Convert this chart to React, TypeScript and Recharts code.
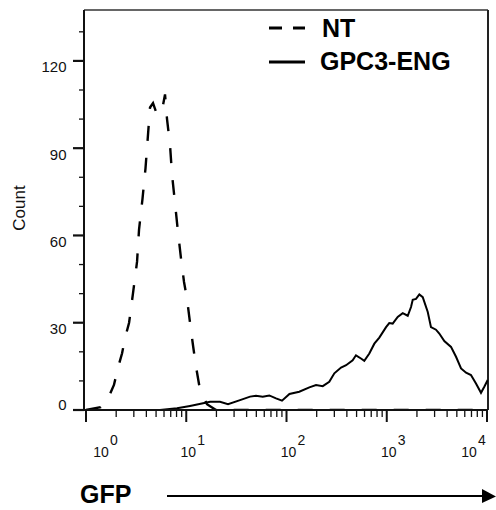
import React from 'react';
import { LineChart, Line, XAxis, YAxis, ReferenceLine, Legend } from 'recharts';

// NT (non-transduced) histogram: GFP intensity vs count
const NT_GFP = [1, 1.4, 1.66, 1.9, 2.08, 2.29, 2.45, 2.69, 2.94, 3.23, 3.38, 3.66, 3.92, 4.11, 4.35, 4.66, 5.11, 5.73, 6.14, 6.43, 6.89, 7.21, 7.73, 8.28, 8.87, 9.5, 10.2, 10.9, 11.7, 12.5, 13.7, 16.1, 19.8, 10000];
const NT_COUNT = [0, 1, 4, 8.6, 14.4, 19.5, 24.7, 30, 40, 51, 62, 72.6, 83, 92.5, 104, 105.5, 101.5, 103, 108.5, 100, 91, 81, 71, 61, 52, 44, 38, 30, 22, 15, 7, 2, 0, 0];

// GPC3-ENG histogram
const ENG_GFP = [1, 5.47, 8.09, 10.9, 14.7, 17.3, 21.7, 26.1, 34.4, 43.3, 49.6, 57.9, 67.3, 78.6, 90.2, 107, 134, 169, 197, 230, 267, 300, 350, 393, 457, 493, 553, 597, 670, 752, 843, 984, 1059, 1146, 1286, 1443, 1619, 1746, 1816, 1959, 2113, 2285, 2564, 2761, 3098, 3342, 3750, 4375, 4909, 5508, 6180, 6918, 7762, 8710, 9397, 10160];
const ENG_COUNT = [0, 0, 0.6, 1.4, 2.3, 2.8, 2.8, 2.0, 3.4, 4.6, 4.9, 4.6, 5.0, 4.0, 3.2, 5.5, 6.3, 7.8, 8.6, 8.2, 9.7, 12.6, 14.6, 15.4, 17.1, 18.8, 17.7, 16.9, 19.4, 22.8, 24.9, 28.5, 29.9, 29.7, 32, 33.3, 32.4, 35.4, 37.9, 38.2, 39.7, 38.8, 33.7, 28.5, 27.6, 26.3, 23.7, 21.7, 18.3, 14.3, 12.8, 12.0, 9.1, 5.9, 8.0, 10.3];

const SERIES_NAMES = ['NT', 'GPC3-ENG'];

// Axis ticks
const X_DECADES = [1, 10, 100, 1000, 10000];
const X_DECADE_EXP = ['0', '1', '2', '3', '4'];
const X_MINOR_MULT = [2, 3, 4, 5, 6, 7, 8, 9];
const Y_MAJOR = [0, 30, 60, 90, 120];
const Y_MINOR = [10, 20, 40, 50, 70, 80, 100, 110, 130];

const X_DOMAIN: [number, number] = [0.955, 10230];
const Y_DOMAIN: [number, number] = [0, 137.5];

const ntData = NT_GFP.map((x, i) => ({ x, y: NT_COUNT[i] }));
const engData = ENG_GFP.map((x, i) => ({ x, y: ENG_COUNT[i] }));

const xTicks: number[] = [];
X_DECADES.forEach((d, i) => {
  xTicks.push(d);
  if (i < X_DECADES.length - 1) X_MINOR_MULT.forEach((m) => xTicks.push(d * m));
});
const yTicks = [...Y_MAJOR, ...Y_MINOR].sort((a, b) => a - b);

const FONT = '"Liberation Sans", Arial, Helvetica, sans-serif';
const INK = '#111';

const XTick = (props: any) => {
  const { x, y, payload } = props;
  const v = payload.value;
  const di = X_DECADES.findIndex((d) => Math.abs(d - v) / d < 1e-6);
  const major = di >= 0;
  let cx = x + 2;
  if (di === 0) cx = x + 15;
  if (di === X_DECADES.length - 1) cx = x - 18;
  return (
    <g>
      <line x1={x} y1={y} x2={x} y2={y + (major ? 12 : 7)} stroke={INK} strokeWidth={major ? 2 : 1.3} />
      {major && (
        <g fontFamily={FONT} fontSize={14} fill={INK}>
          <text x={cx} y={y + 47} textAnchor="middle">10</text>
          <text x={cx + 9} y={y + 35} textAnchor="start">{X_DECADE_EXP[di]}</text>
        </g>
      )}
    </g>
  );
};

const YTick = (props: any) => {
  const { x, y, payload } = props;
  const v = payload.value;
  const major = Y_MAJOR.includes(v);
  return (
    <g>
      <line x1={x - (major ? 11 : 5)} y1={y} x2={x} y2={y} stroke={INK} strokeWidth={major ? 2.2 : 1.3} />
      {major && (
        <text x={x - 17.5} y={v === 0 ? y : y + 11.5} textAnchor="end" fontFamily={FONT} fontSize={15} fill={INK}>
          {v}
        </text>
      )}
    </g>
  );
};

const LegendBox = () => (
  <svg width={220} height={70} style={{ overflow: 'visible' }}>
    <line x1={9} y1={18} x2={45} y2={18} stroke="#000" strokeWidth={3} strokeDasharray="13 11" />
    <text x={62} y={27} fontFamily={FONT} fontWeight="bold" fontSize={25} fill="#000">{SERIES_NAMES[0]}</text>
    <line x1={9} y1={52} x2={45} y2={52} stroke="#000" strokeWidth={3} />
    <text x={60} y={60} fontFamily={FONT} fontWeight="bold" fontSize={25} fill="#000">{SERIES_NAMES[1]}</text>
  </svg>
);

export default function App() {
  return (
    <div style={{ position: 'absolute', left: 0, top: 0, width: 496, height: 510, background: '#fff' }}>
      <LineChart width={496} height={510} margin={{ top: 10, right: 8, bottom: 0, left: 0 }}>
        <XAxis
          type="number"
          dataKey="x"
          scale="log"
          domain={X_DOMAIN}
          allowDataOverflow
          ticks={xTicks}
          interval={0}
          tick={<XTick />}
          tickLine={false}
          tickSize={0}
          tickMargin={0}
          height={100}
          axisLine={{ stroke: INK, strokeWidth: 2 }}
        />
        <YAxis
          type="number"
          domain={Y_DOMAIN}
          allowDataOverflow
          ticks={yTicks}
          interval={0}
          tick={<YTick />}
          tickLine={false}
          tickSize={0}
          tickMargin={0}
          width={84}
          axisLine={{ stroke: INK, strokeWidth: 2 }}
        />
        <ReferenceLine y={Y_DOMAIN[1]} stroke="#333" strokeWidth={1.5} />
        <ReferenceLine x={X_DOMAIN[1]} stroke="#222" strokeWidth={2} />
        <Line
          data={ntData}
          dataKey="y"
          name={SERIES_NAMES[0]}
          type="linear"
          stroke="#000"
          strokeWidth={2.4}
          strokeDasharray="15 17"
          dot={false}
          activeDot={false}
          isAnimationActive={false}
        />
        <Line
          data={engData}
          dataKey="y"
          name={SERIES_NAMES[1]}
          type="linear"
          stroke="#000"
          strokeWidth={2}
          dot={false}
          activeDot={false}
          isAnimationActive={false}
        />
        <Legend
          layout="horizontal"
          verticalAlign="middle"
          align="center"
          content={<LegendBox />}
          wrapperStyle={{ position: 'absolute', left: 260, top: 10, width: 220, height: 70 }}
        />
      </LineChart>
      <svg width={496} height={510} style={{ position: 'absolute', left: 0, top: 0, pointerEvents: 'none' }}>
        <text x={25} y={208} transform="rotate(-90 25 208)" textAnchor="middle" fontFamily={FONT} fontSize={17} fill={INK}>
          Count
        </text>
        <text x={80} y={503} fontFamily={FONT} fontWeight="bold" fontSize={25} fill="#000">GFP</text>
        <line x1={167} y1={496} x2={484} y2={496} stroke="#000" strokeWidth={2} />
        <polygon points="482,489 496,496.5 482,503" fill="#000" />
      </svg>
    </div>
  );
}
